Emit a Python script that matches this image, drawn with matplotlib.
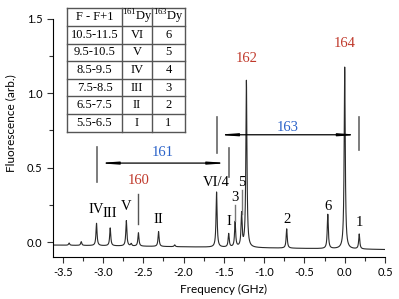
import numpy as np
import matplotlib
matplotlib.use("Agg")
import matplotlib.pyplot as plt
from matplotlib.ticker import MultipleLocator

plt.rcParams['font.family'] = ['Lato', 'DejaVu Sans']
plt.rcParams['mathtext.fontset'] = 'custom'
plt.rcParams['mathtext.rm'] = 'Liberation Serif'

# peak positions (GHz) and heights (arb.)
peak_freq = [-3.42, -3.27, -3.08, -2.91, -2.71, -2.65, -2.56, -2.31, -2.11,
             -1.59, -1.44, -1.36, -1.28, -1.22, -0.72, -0.21, 0.00, 0.18]
peak_height = [0.015, 0.025, 0.15, 0.12, 0.17, 0.015, 0.09, 0.10, 0.012,
               0.37, 0.09, 0.17, 0.22, 1.12, 0.13, 0.23, 1.22, 0.10]
baseline_ends = [-0.02, -0.05]
freq_range = [-3.62, 0.5]

# transition labels
line_labels = ['IV', 'III', 'V', 'II', 'VI/4', 'I', '3', '5', '2', '6', '1']
label_freq = [-3.08, -2.91, -2.71, -2.31, -1.59, -1.44, -1.36, -1.28, -0.72, -0.21, 0.18]
label_y = [0.22, 0.19, 0.24, 0.15, 0.40, 0.14, 0.30, 0.40, 0.15, 0.24, 0.13]
isotopes = ['160', '162', '164']
iso_freq = [-2.56, -1.22, 0.0]
iso_y = [0.41, 1.23, 1.33]

# hyperfine table
table_rows = [['F - F+1', r'$^{161}$Dy', r'$^{163}$Dy'],
              ['10.5-11.5', 'VI', '6'],
              ['9.5-10.5', 'V', '5'],
              ['8.5-9.5', 'IV', '4'],
              ['7.5-8.5', 'III', '3'],
              ['6.5-7.5', 'II', '2'],
              ['5.5-6.5', 'I', '1']]

red = '#c0392b'
blue = '#2a62c9'
serif = ['Liberation Serif', 'DejaVu Serif']

x = np.linspace(freq_range[0], freq_range[1], 6000)
y = np.interp(x, freq_range, baseline_ends)
g = 0.008
for f0, h in zip(peak_freq, peak_height):
    y += h * g**2 / ((x - f0)**2 + g**2)

fig = plt.figure(figsize=(3.99, 2.99), dpi=100)
ax = fig.add_axes([53/399, 42/299, 332/399, 238.5/299])
ax.plot(x, y, color='#2a2a2a', lw=0.8)
ax.set_xlim(-3.62, 0.5)
ax.set_ylim(-0.1, 1.5)
ax.spines['top'].set_visible(False)
ax.spines['right'].set_visible(False)
ax.xaxis.set_major_locator(MultipleLocator(0.5))
ax.xaxis.set_minor_locator(MultipleLocator(0.25))
ax.yaxis.set_major_locator(MultipleLocator(0.5))
ax.yaxis.set_minor_locator(MultipleLocator(0.25))
ax.xaxis.set_major_formatter(matplotlib.ticker.FormatStrFormatter('%.1f'))
ax.yaxis.set_major_formatter(matplotlib.ticker.FormatStrFormatter('%.1f'))
ax.tick_params(which='both', direction='out', labelsize=8, width=0.8, color='#333')
ax.tick_params(which='major', length=4)
ax.tick_params(which='minor', length=3)
ax.set_xlabel('Frequency (GHz)', fontsize=8.5)
ax.set_ylabel('Fluorescence (arb.)', fontsize=8.5)
ax.xaxis.set_label_coords(0.515, -0.115)
ax.yaxis.set_label_coords(-0.11, 0.56)

for lab, fx, fy in zip(line_labels, label_freq, label_y):
    ax.text(fx, fy, lab, ha='center', va='center', fontsize=10.5, family=serif)
for lab, fx, fy in zip(isotopes, iso_freq, iso_y):
    ax.text(fx, fy, lab, ha='center', va='center', fontsize=10.5, family=serif, color=red)

# marker lines under crowded labels
ax.plot([-2.56, -2.56], [0.12, 0.32], color='#555', lw=1)
ax.plot([-1.36, -1.36], [0.14, 0.25], color='#777', lw=1)
ax.plot([-1.28, -1.28], [0.19, 0.35], color='#777', lw=1)

# isotope shift brackets
def bracket(x0, x1, yl, ylo0, yhi0, ylo1, yhi1, text, ty):
    ax.plot([x0, x0], [ylo0, yhi0], color='#666', lw=1.2)
    ax.plot([x1, x1], [ylo1, yhi1], color='#666', lw=1.2)
    ax.annotate('', xy=(x0, yl), xytext=(x1, yl),
                arrowprops=dict(arrowstyle='<|-|>,head_length=1.0,head_width=0.07',
                                color='black', lw=0.9, shrinkA=0, shrinkB=0))
    ax.text((x0 + x1) / 2, ty, text, ha='center', va='center',
            fontsize=10.5, family=serif, color=blue)

bracket(-3.07, -1.44, 0.53, 0.40, 0.64, 0.44, 0.63, '161', 0.60)
bracket(-1.59, 0.18, 0.72, 0.60, 0.84, 0.62, 0.84, '163', 0.77)

# table drawn in figure pixels
W, H = 399, 299
col_x = [67, 122, 152, 185]
row_y = [8.3 + i * 17.63 for i in range(8)]
for cx in col_x:
    fig.add_artist(plt.Line2D([cx / W, cx / W], [1 - row_y[0] / H, 1 - row_y[-1] / H],
                              color='#555', lw=1))
for ry in row_y:
    fig.add_artist(plt.Line2D([col_x[0] / W, col_x[-1] / W], [1 - ry / H, 1 - ry / H],
                              color='#555', lw=1))
for i, row in enumerate(table_rows):
    cy = (row_y[i] + row_y[i + 1]) / 2
    for j, cell in enumerate(row):
        cx = (col_x[j] + col_x[j + 1]) / 2
        fig.text(cx / W, 1 - cy / H, cell, ha='center', va='center',
                 fontsize=9, family=serif)

fig.savefig('out.png', dpi=100)
